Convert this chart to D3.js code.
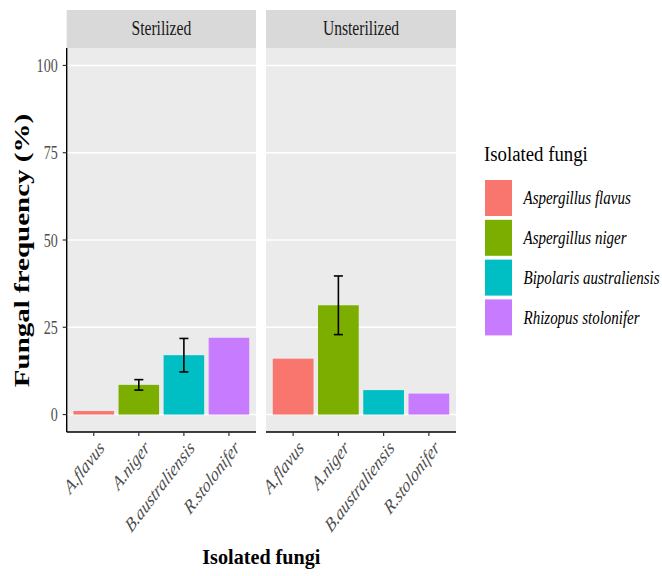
<!DOCTYPE html>
<html>
<head>
<meta charset="utf-8">
<script src="https://cdn.jsdelivr.net/npm/d3@7"></script>
<style>
  html, body { margin: 0; padding: 0; background: #ffffff; }
  svg { display: block; }
  text { font-family: "Liberation Serif", "Times New Roman", serif; }
</style>
</head>
<body>
<svg id="chart" width="662" height="576"></svg>
<script>
// Faceting variable (one panel per treatment)
const treatments = ["Sterilized", "Unsterilized"];
// Isolated fungi on the x axis, and their full names in the legend
const fungi = ["A.flavus", "A.niger", "B.australiensis", "R.stolonifer"];
const fungiNames = ["Aspergillus flavus", "Aspergillus niger", "Bipolaris australiensis", "Rhizopus stolonifer"];
// Mean fungal frequency (%) per treatment
const sterilizedMean = [1, 8.5, 17, 22];
const unsterilizedMean = [16, 31.3, 7, 6];
// Error half-widths (null = no error bar)
const sterilizedErr = [null, 1.5, 4.8, null];
const unsterilizedErr = [null, 8.4, null, null];
// Y axis ticks
const yTicks = [0, 25, 50, 75, 100];
const palette = ["#F8766D", "#7CAE00", "#00BFC4", "#C77CFF"];

const means = [sterilizedMean, unsterilizedMean];
const errs = [sterilizedErr, unsterilizedErr];

const svg = d3.select("#chart");

// panel geometry
const panelTop = 48, panelBottom = 432;
const stripTop = 10;
const panelX = [[66.7, 256], [266, 456]];

const y = d3.scaleLinear().domain([-5, 105]).range([panelBottom, panelTop]);
const color = d3.scaleOrdinal().domain(fungi).range(palette);

// horizontally condensed text helper
function ctext(parent, x, yPos, sx, str) {
  return parent.append("text")
    .attr("transform", `translate(${x},${yPos}) scale(${sx},1)`)
    .text(str);
}

treatments.forEach((t, pi) => {
  const [x0, x1] = panelX[pi];
  const x = d3.scaleBand().domain(fungi).range([x0, x1]).paddingInner(0.1).paddingOuter(0.15);
  const g = svg.append("g");

  // strip
  g.append("rect").attr("x", x0).attr("y", stripTop).attr("width", x1 - x0)
    .attr("height", panelTop - stripTop).attr("fill", "#D9D9D9");
  ctext(g, (x0 + x1) / 2, 35, 0.78, t)
    .attr("text-anchor", "middle").attr("font-size", 20).attr("fill", "#1A1A1A");

  // panel background
  g.append("rect").attr("x", x0).attr("y", panelTop).attr("width", x1 - x0)
    .attr("height", panelBottom - panelTop).attr("fill", "#EBEBEB");

  // major gridlines
  g.selectAll(".grid").data(yTicks).join("line")
    .attr("x1", x0).attr("x2", x1)
    .attr("y1", d => y(d)).attr("y2", d => y(d))
    .attr("stroke", "#ffffff").attr("stroke-width", 1.6);

  // bars
  const rows = fungi.map((f, i) => ({ f, v: means[pi][i], e: errs[pi][i] }));
  g.selectAll(".bar").data(rows).join("rect")
    .attr("x", d => x(d.f)).attr("width", x.bandwidth())
    .attr("y", d => y(d.v)).attr("height", d => y(0) - y(d.v))
    .attr("fill", d => color(d.f));

  // error bars
  const capW = 0.2 * x.step();
  const eb = g.selectAll(".err").data(rows.filter(d => d.e != null)).join("g")
    .attr("stroke", "#000").attr("stroke-width", 1.6).attr("fill", "none");
  eb.append("line")
    .attr("x1", d => x(d.f) + x.bandwidth() / 2).attr("x2", d => x(d.f) + x.bandwidth() / 2)
    .attr("y1", d => y(d.v - d.e)).attr("y2", d => y(d.v + d.e));
  eb.append("line")
    .attr("x1", d => x(d.f) + x.bandwidth() / 2 - capW / 2).attr("x2", d => x(d.f) + x.bandwidth() / 2 + capW / 2)
    .attr("y1", d => y(d.v + d.e)).attr("y2", d => y(d.v + d.e));
  eb.append("line")
    .attr("x1", d => x(d.f) + x.bandwidth() / 2 - capW / 2).attr("x2", d => x(d.f) + x.bandwidth() / 2 + capW / 2)
    .attr("y1", d => y(d.v - d.e)).attr("y2", d => y(d.v - d.e));

  // bottom axis line and ticks
  g.append("line").attr("x1", x0).attr("x2", x1).attr("y1", panelBottom).attr("y2", panelBottom)
    .attr("stroke", "#000").attr("stroke-width", 1.4);
  g.selectAll(".xt").data(fungi).join("line")
    .attr("x1", d => x(d) + x.bandwidth() / 2).attr("x2", d => x(d) + x.bandwidth() / 2)
    .attr("y1", panelBottom).attr("y2", panelBottom + 4)
    .attr("stroke", "#333").attr("stroke-width", 1.2);

  // rotated x tick labels
  g.selectAll(".xl").data(fungi).join("text")
    .attr("transform", d => `translate(${x(d) + x.bandwidth() / 2 + 4},${panelBottom + 7}) scale(0.76,1) rotate(-45)`)
    .attr("text-anchor", "end").attr("dy", "0.7em")
    .attr("font-size", 20).attr("font-style", "italic").attr("fill", "#4D4D4D")
    .text(d => d);

  // left axis only on the first panel
  if (pi === 0) {
    g.append("line").attr("x1", x0).attr("x2", x0).attr("y1", panelTop).attr("y2", panelBottom)
      .attr("stroke", "#000").attr("stroke-width", 1.4);
    g.selectAll(".yt").data(yTicks).join("line")
      .attr("x1", x0 - 4).attr("x2", x0)
      .attr("y1", d => y(d)).attr("y2", d => y(d))
      .attr("stroke", "#333").attr("stroke-width", 1.2);
    g.selectAll(".yl").data(yTicks).join("text")
      .attr("transform", d => `translate(${x0 - 9},${y(d)}) scale(0.74,1)`)
      .attr("text-anchor", "end").attr("dy", "0.35em")
      .attr("font-size", 19).attr("fill", "#4D4D4D")
      .text(d => d);
  }
});

// y axis title
svg.append("text")
  .attr("transform", `translate(28.5,250.5) scale(0.75,1) rotate(-90)`)
  .attr("text-anchor", "middle")
  .attr("font-size", 29).attr("font-weight", "bold").attr("fill", "#000")
  .text("Fungal frequency (%)");

// x axis title
ctext(svg, (panelX[0][0] + panelX[1][1]) / 2, 564, 0.96, "Isolated fungi")
  .attr("text-anchor", "middle").attr("font-size", 21).attr("font-weight", "bold").attr("fill", "#000");

// legend
const lg = svg.append("g");
ctext(lg, 484, 160.5, 0.87, "Isolated fungi").attr("font-size", 21.6).attr("fill", "#000");
const items = lg.selectAll(".li").data(fungi).join("g")
  .attr("transform", (d, i) => `translate(485,${180 + i * 39.8})`);
items.append("rect").attr("width", 27).attr("height", 36).attr("fill", d => color(d));
items.append("text")
  .attr("transform", `translate(38.5,18) scale(0.81,1)`)
  .attr("dy", "0.33em")
  .attr("font-size", 18.5).attr("font-style", "italic").attr("fill", "#000")
  .text((d, i) => fungiNames[i]);
</script>
</body>
</html>
